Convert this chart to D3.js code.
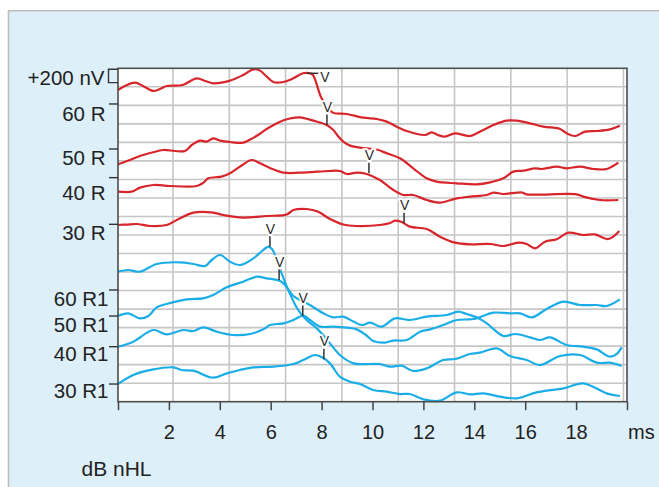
<!DOCTYPE html>
<html><head><meta charset="utf-8">
<script src="https://cdn.jsdelivr.net/npm/d3@7"></script>
<style>
html,body{margin:0;padding:0;background:#fff;}
svg{display:block;font-family:"Liberation Sans",Arial,Helvetica,sans-serif;}
</style></head><body>
<svg id="c" width="659" height="487"></svg>
<script>
// ---- DATA (time in ms, amplitude in nV on the stacked display axis) ----
const trace60R = [[0,4675],[0.31,4742],[0.67,4785],[0.98,4735],[1.39,4660],[1.65,4690],[1.91,4735],[2.54,4750],[3.09,4850],[3.42,4810],[3.74,4775],[4.40,4815],[4.92,4900],[5.32,4985],[5.58,4965],[5.82,4885],[6.10,4795],[6.50,4795],[6.89,4850],[7.27,4925],[7.54,4925],[7.66,4900],[7.98,4565],[8.17,4450],[8.44,4335],[8.99,4315],[9.64,4260],[10.17,4240],[10.56,4200],[10.95,4125],[11.34,4060],[12.06,4000],[12.33,4040],[12.57,4000],[12.85,3975],[13.24,4025],[13.83,3985],[14.35,4075],[14.75,4150],[15.27,4215],[15.67,4215],[16.19,4175],[16.71,4125],[17.37,4090],[17.63,4025],[17.96,3985],[18.35,4050],[18.81,4060],[19.33,4085],[19.72,4140]];
const trace50R = [[0,3560],[0.47,3625],[0.86,3685],[1.34,3737],[1.78,3775],[2.24,3760],[2.63,3760],[2.90,3850],[3.22,3915],[3.49,3900],[3.74,3950],[4.01,3915],[4.40,3895],[4.92,3885],[5.19,3932],[5.50,4000],[5.84,4090],[6.37,4200],[6.76,4247],[7.15,4265],[7.67,4215],[8.20,4150],[8.46,4075],[8.64,3985],[8.85,3900],[9.12,3840],[9.64,3805],[10.17,3782],[10.56,3725],[11.08,3650],[11.60,3500],[12.13,3350],[12.52,3300],[13.31,3275],[14.09,3260],[14.62,3290],[15.14,3350],[15.53,3450],[15.93,3465],[16.39,3500],[16.65,3490],[17.24,3525],[17.63,3500],[18.15,3525],[18.68,3490],[19.20,3490],[19.66,3585]];
const trace40R = [[0,3150],[0.54,3150],[0.86,3210],[1.39,3250],[2.04,3235],[3.09,3235],[3.34,3280],[3.55,3350],[4.07,3375],[4.40,3425],[4.79,3525],[5.25,3625],[5.58,3575],[5.97,3505],[6.50,3435],[7.41,3440],[8.26,3460],[8.72,3460],[8.99,3415],[9.38,3435],[9.77,3415],[10.29,3325],[10.82,3175],[11.21,3100],[11.60,3100],[12.13,3025],[12.65,2985],[13.31,3050],[13.83,3075],[14.49,3100],[14.75,3135],[15.14,3115],[15.67,3135],[15.87,3137],[16.06,3110],[18.02,3110],[18.28,3075],[18.94,3025],[19.66,3025]];
const trace30R = [[0,2650],[0.35,2657],[0.73,2665],[1.26,2635],[1.91,2650],[2.31,2725],[2.96,2835],[3.74,2835],[4.14,2800],[4.92,2762],[5.84,2785],[6.63,2807],[6.89,2875],[7.41,2890],[7.87,2850],[8.26,2755],[8.85,2657],[9.38,2635],[10.29,2650],[10.69,2680],[10.88,2715],[11.15,2695],[11.47,2625],[12.13,2590],[12.65,2475],[13.24,2385],[13.83,2360],[14.62,2365],[15.14,2335],[15.73,2385],[16.06,2365],[16.39,2300],[16.78,2400],[17.24,2435],[17.69,2535],[18.28,2500],[18.74,2510],[19.27,2440],[19.70,2560]];
const trace60R1 = [[0,1950],[0.40,1975],[0.86,1950],[1.52,2065],[2.44,2090],[2.96,2065],[3.42,2035],[3.68,2125],[4.01,2200],[4.40,2100],[4.79,2050],[5.32,2150],[5.66,2260],[5.91,2327],[6.05,2290],[6.17,2200],[6.43,1925],[6.69,1675],[7.08,1375],[7.41,1225],[7.81,1100],[8.06,1000],[8.33,875],[8.72,700],[9.25,575],[10.29,565],[10.69,525],[11.15,540],[11.60,460],[12.13,500],[12.78,625],[13.24,640],[13.83,715],[14.22,735],[14.88,800],[15.40,685],[16.06,625],[16.58,550],[17.37,685],[18.15,700],[18.81,585],[19.33,585],[19.79,535]];
const trace50R1 = [[0,1285],[0.40,1325],[0.86,1250],[1.19,1285],[1.52,1415],[1.91,1465],[2.70,1535],[3.35,1550],[3.74,1600],[4.27,1715],[4.92,1800],[5.45,1875],[5.84,1850],[6.37,1810],[6.56,1750],[6.89,1585],[7.15,1525],[7.54,1450],[8.07,1325],[8.46,1265],[8.85,1275],[9.25,1202],[9.58,1150],[9.90,1185],[10.36,1125],[10.88,1250],[11.47,1225],[12.13,1275],[12.92,1300],[13.37,1350],[13.70,1315],[14.09,1265],[14.49,1175],[15.14,985],[15.60,1015],[16.19,965],[16.58,925],[16.97,965],[17.63,850],[18.28,825],[18.81,785],[19.33,675],[19.59,715],[19.79,815]];
const trace40R1 = [[0,825],[0.60,900],[1.39,1075],[1.91,1010],[2.57,1075],[2.96,1060],[3.35,1115],[3.88,1050],[4.53,1000],[5.19,1015],[5.71,1085],[5.97,1150],[6.50,1175],[6.89,1225],[7.28,1292],[7.54,1225],[7.94,1127],[8.46,1125],[8.99,1110],[9.38,1085],[9.74,1000],[10.03,910],[10.49,887],[10.82,917],[11.34,925],[11.87,1050],[12.26,1085],[12.78,1150],[13.31,1225],[13.83,1235],[14.09,1250],[14.75,1335],[15.40,1325],[15.80,1325],[16.26,1265],[16.84,1390],[17.50,1500],[18.15,1450],[18.81,1450],[19.20,1435],[19.72,1535]];
const trace30R1 = [[0,265],[0.60,400],[1.39,485],[2.17,515],[2.50,475],[2.96,465],[3.74,360],[4.27,425],[4.79,475],[5.32,515],[6.10,525],[6.89,565],[7.28,625],[7.74,700],[8.00,670],[8.33,575],[8.72,375],[9.12,300],[9.51,265],[10.03,175],[10.56,150],[11.08,115],[11.47,115],[12.00,35],[12.65,15],[13.31,140],[13.83,110],[14.35,125],[15.01,75],[15.67,50],[16.45,140],[17.50,200],[18.28,275],[19.20,125],[19.72,85]];

const redTraces = [trace60R, trace50R, trace40R, trace30R];
const blueTraces = [trace60R1, trace50R1, trace40R1, trace30R1];

// wave V latency (ms) and amplitude (nV) for each trace, same order
const vLatency   = [7.42, 8.21, 9.86, 11.24, 5.97, 6.33, 7.26, 8.09];
const vAmplitude = [4925, 4150, 3425, 2675, 2325, 1825, 1285, 635];

// level labels (dB nHL) and their marks on the stacked amplitude axis
const levelLabels = ["60 R","50 R","40 R","30 R","60 R1","50 R1","40 R1","30 R1"];
const levelMarks  = [4465, 3790, 3360, 2660, 1675, 1285, 825, 265];

const scaleBarNV = 200;           // calibration bar
const scaleBarTop = 4985;
const xTicks = [0,2,4,6,8,10,12,14,16,18,20];
const xTickLabels = ["","2","4","6","8","10","12","14","16","18",""];

// ---- DRAWING ----
const svg = d3.select("#c");
const L = 118, R = 627, T = 68.3, B = 401.7;
const x = d3.scaleLinear().domain([0,20]).range([L,R]);
const y = d3.scaleLinear().domain([0,5000]).range([B,T]);

// background panel
svg.append("rect").attr("x",8).attr("y",10.5).attr("width",651).attr("height",477).attr("fill","#ddf0fa");
svg.append("path").attr("d","M8.5,487V10.7H659").attr("fill","none").attr("stroke","#bdbdbd").attr("stroke-width",1.6);

// plot area
svg.append("rect").attr("x",L).attr("y",T).attr("width",R-L).attr("height",B-T).attr("fill","#fff");

const gridX = d3.range(9).map(i => 2.16 + i*2.2125);
const gridY = d3.range(1,18).map(k => k*5000/18);
const grid = svg.append("g").attr("stroke","#c6c6c6").attr("stroke-width",1.6);
grid.selectAll("line.gx").data(gridX).join("line").attr("class","gx")
  .attr("x1",d=>x(d)).attr("x2",d=>x(d)).attr("y1",T).attr("y2",B);
grid.selectAll("line.gy").data(gridY).join("line").attr("class","gy")
  .attr("x1",L).attr("x2",R).attr("y1",d=>y(d)).attr("y2",d=>y(d));

// traces
const line = d3.line().x(d=>x(d[0])).y(d=>y(d[1])).curve(d3.curveCatmullRom.alpha(0.5));
svg.append("g").selectAll("path").data(redTraces).join("path")
  .attr("d",line).attr("fill","none").attr("stroke","#d7252b").attr("stroke-width",2.2).attr("stroke-linejoin","round");
svg.append("g").selectAll("path").data(blueTraces).join("path")
  .attr("d",line).attr("fill","none").attr("stroke","#1aade8").attr("stroke-width",2.2).attr("stroke-linejoin","round");

// wave V markers
const vg = svg.append("g");
vLatency.forEach((ms,i) => {
  const px = x(ms), py = y(vAmplitude[i]);
  if (i === 0) {
    vg.append("line").attr("x1",px).attr("x2",px+11.5).attr("y1",py).attr("y2",py)
      .attr("stroke","#333").attr("stroke-width",1.5);
    vg.append("text").attr("x",px+13.5).attr("y",py+8.4).text("V")
      .attr("font-size",14).attr("fill","#2b2b2b")
      .attr("stroke","#fff").attr("stroke-width",3).attr("paint-order","stroke");
  } else {
    vg.append("text").attr("x",px+0.5).attr("y",py-13).attr("text-anchor","middle").text("V")
      .attr("font-size",14).attr("fill","#2b2b2b")
      .attr("stroke","#fff").attr("stroke-width",3.5).attr("paint-order","stroke");
    vg.append("line").attr("x1",px).attr("x2",px).attr("y1",py).attr("y2",py-10.5)
      .attr("stroke","#333").attr("stroke-width",1.5);
  }
});

// frame
svg.append("rect").attr("x",L).attr("y",T).attr("width",R-L).attr("height",B-T)
  .attr("fill","none").attr("stroke","#4d4d4d").attr("stroke-width",1.6);

// x axis
const ax = svg.append("g").attr("transform",`translate(0,${B})`)
  .call(d3.axisBottom(x).tickValues(xTicks).tickSize(8.5).tickFormat((d,i)=>xTickLabels[i]));
ax.select(".domain").remove();
ax.selectAll(".tick line").attr("stroke","#444").attr("stroke-width",1.5);
ax.selectAll(".tick text").attr("dy",null).attr("y",37.6)
  .attr("font-size",20).attr("font-family","'Liberation Sans',Arial,sans-serif").attr("fill","#222");
svg.append("text").attr("x",628).attr("y",439.3).text("ms").attr("font-size",20).attr("fill","#222");
svg.append("text").attr("x",81.5).attr("y",476).text("dB nHL").attr("font-size",21).attr("fill","#222");

// level labels
const labelDy = [16.7,16,22.3,15.7,16,15.7,14,14.3];
const lg = svg.append("g");
levelLabels.forEach((t,i) => {
  const py = y(levelMarks[i]);
  lg.append("line").attr("x1",109).attr("x2",L).attr("y1",py).attr("y2",py)
    .attr("stroke","#333").attr("stroke-width",1.4);
  lg.append("text").attr("x", t.endsWith("1") ? 108.5 : 105.5).attr("y",py+labelDy[i])
    .attr("text-anchor","end").attr("font-size",20.5).attr("fill","#222").text(t);
});

// calibration bar
const yb1 = y(scaleBarTop), yb2 = y(scaleBarTop - scaleBarNV);
svg.append("path").attr("d",`M${L},${yb1}H108.5V${yb2}H${L}`)
  .attr("fill","none").attr("stroke","#333").attr("stroke-width",1.4);
svg.append("text").attr("x",104.5).attr("y",85).attr("text-anchor","end")
  .attr("font-size",20.5).attr("fill","#222").text("+" + scaleBarNV + " nV");
</script>
</body></html>
